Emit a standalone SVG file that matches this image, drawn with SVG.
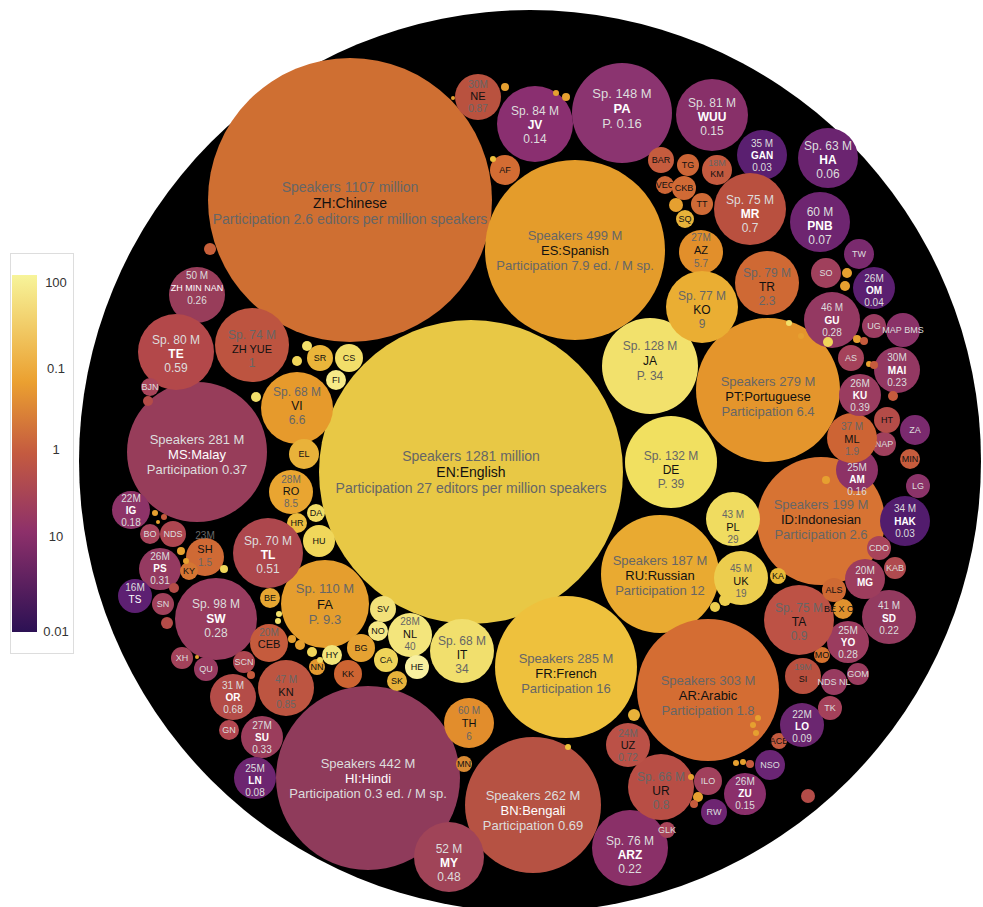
<svg xmlns="http://www.w3.org/2000/svg" width="983" height="907" viewBox="0 0 983 907">
<defs>
<linearGradient id="lg" x1="0" y1="0" x2="0" y2="1">
<stop offset="0" stop-color="#f7f49a"/><stop offset="0.3" stop-color="#eba030"/><stop offset="0.5" stop-color="#c45a40"/><stop offset="0.72" stop-color="#8d306a"/><stop offset="1" stop-color="#2c1154"/>
</linearGradient>
<style>
text{font-family:"Liberation Sans",Arial,sans-serif;text-anchor:middle}
.g{fill:#666}.k{fill:#111}.w{fill:#ddd}.W{fill:#fff;font-weight:bold}.N{fill:#fff}
.s12{font-size:12px}.s10{font-size:10px}.s9{font-size:9px}.s13{font-size:13px}.s14{font-size:14px}
</style>
</defs>
<rect width="983" height="907" fill="#fff"/>
<circle cx="530" cy="461" r="451" fill="#000"/>
<g id="legend">
<rect x="10.5" y="253.5" width="63" height="400" fill="#fff" stroke="#ddd"/>
<rect x="12" y="275" width="25" height="357" fill="url(#lg)"/>
<g font-size="13" fill="#333"><text x="56" y="287">100</text><text x="56" y="373">0.1</text><text x="56" y="454">1</text><text x="56" y="541">10</text><text x="56" y="636">0.01</text></g>
</g>
<g id="nodes">
<g id="zh"><circle cx="350" cy="200" r="142" fill="#cf6f32"/><text class="s14" x="350" y="192"><tspan class="g" x="350">Speakers 1107 million</tspan><tspan class="k" x="350" dy="16">ZH:Chinese</tspan><tspan class="g" x="350" dy="16">Participation 2.6 editors per million speakers</tspan></text></g>
<g id="en"><circle cx="471" cy="472" r="152" fill="#e8c845"/><text class="s14" x="471" y="461"><tspan class="g" x="471">Speakers 1281 million</tspan><tspan class="k" x="471" dy="16">EN:English</tspan><tspan class="g" x="471" dy="16">Participation 27 editors per million speakers</tspan></text></g>
<g id="es"><circle cx="575" cy="250" r="90" fill="#e49c2b"/><text class="s13" x="575" y="240"><tspan class="g" x="575">Speakers 499 M</tspan><tspan class="k" x="575" dy="15">ES:Spanish</tspan><tspan class="g" x="575" dy="15">Participation 7.9 ed. / M sp.</tspan></text></g>
<g id="ja"><circle cx="650" cy="366" r="48" fill="#f2e16c"/><text class="s12" x="650" y="350"><tspan class="g" x="650">Sp. 128 M</tspan><tspan class="k" x="650" dy="15">JA</tspan><tspan class="g" x="650" dy="15">P. 34</tspan></text></g>
<g id="de"><circle cx="671" cy="462" r="46" fill="#f1e060"/><text class="s12" x="671" y="460"><tspan class="g" x="671">Sp. 132 M</tspan><tspan class="k" x="671" dy="14">DE</tspan><tspan class="g" x="671" dy="14">P. 39</tspan></text></g>
<g id="pt"><circle cx="768" cy="390" r="72" fill="#e4952c"/><text class="s13" x="768" y="386"><tspan class="g" x="768">Speakers 279 M</tspan><tspan class="k" x="768" dy="15">PT:Portuguese</tspan><tspan class="g" x="768" dy="15">Participation 6.4</tspan></text></g>
<g id="id"><circle cx="821" cy="521" r="64" fill="#d77333"/><text class="s13" x="821" y="509"><tspan class="g" x="821">Speakers 199 M</tspan><tspan class="k" x="821" dy="15">ID:Indonesian</tspan><tspan class="g" x="821" dy="15">Participation 2.6</tspan></text></g>
<g id="ru"><circle cx="660" cy="574" r="59" fill="#e9aa31"/><text class="s13" x="660" y="565"><tspan class="g" x="660">Speakers 187 M</tspan><tspan class="k" x="660" dy="15">RU:Russian</tspan><tspan class="g" x="660" dy="15">Participation 12</tspan></text></g>
<g id="ar"><circle cx="708" cy="690" r="71" fill="#d46d33"/><text class="s13" x="708" y="685"><tspan class="g" x="708">Speakers 303 M</tspan><tspan class="k" x="708" dy="15">AR:Arabic</tspan><tspan class="g" x="708" dy="15">Participation 1.8</tspan></text></g>
<g id="fr"><circle cx="566" cy="667" r="71" fill="#eec13d"/><text class="s13" x="566" y="663"><tspan class="g" x="566">Speakers 285 M</tspan><tspan class="k" x="566" dy="15">FR:French</tspan><tspan class="g" x="566" dy="15">Participation 16</tspan></text></g>
<g id="bn"><circle cx="533" cy="805" r="68" fill="#b65243"/><text class="s13" x="533" y="800"><tspan class="w" x="533">Speakers 262 M</tspan><tspan class="N" x="533" dy="15">BN:Bengali</tspan><tspan class="w" x="533" dy="15">Participation 0.69</tspan></text></g>
<g id="hi"><circle cx="368" cy="778" r="92" fill="#8f3b5b"/><text class="s13" x="368" y="768"><tspan class="w" x="368">Speakers 442 M</tspan><tspan class="N" x="368" dy="15">HI:Hindi</tspan><tspan class="w" x="368" dy="15">Participation 0.3 ed. / M sp.</tspan></text></g>
<g id="ms"><circle cx="197" cy="452" r="70" fill="#973d5a"/><text class="s13" x="197" y="444"><tspan class="w" x="197">Speakers 281 M</tspan><tspan class="N" x="197" dy="15">MS:Malay</tspan><tspan class="w" x="197" dy="15">Participation 0.37</tspan></text></g>
<g id="pa"><circle cx="622" cy="113" r="50" fill="#8b3470"/><text class="s13" x="622" y="98"><tspan class="w" x="622">Sp. 148 M</tspan><tspan class="W" x="622" dy="15">PA</tspan><tspan class="w" x="622" dy="15">P. 0.16</tspan></text></g>
<g id="jv"><circle cx="535" cy="124" r="38" fill="#8a2f70"/><text class="s12" x="535" y="115"><tspan class="w" x="535">Sp. 84 M</tspan><tspan class="W" x="535" dy="14">JV</tspan><tspan class="w" x="535" dy="14">0.14</tspan></text></g>
<g id="wuu"><circle cx="712" cy="115" r="36" fill="#883069"/><text class="s12" x="712" y="107"><tspan class="w" x="712">Sp. 81 M</tspan><tspan class="W" x="712" dy="14">WUU</tspan><tspan class="w" x="712" dy="14">0.15</tspan></text></g>
<g id="ne"><circle cx="478" cy="97" r="23" fill="#b9523f"/><text class="s10" x="478" y="88"><tspan class="g" x="478">30M</tspan><tspan class="k" x="478" dy="12" font-size="11">NE</tspan><tspan class="g" x="478" dy="12">0.87</tspan></text></g>
<g id="gan"><circle cx="762" cy="155" r="25" fill="#5a1f70"/><text class="s10" x="762" y="147"><tspan class="w" x="762">35 M</tspan><tspan class="W" x="762" dy="12">GAN</tspan><tspan class="w" x="762" dy="12">0.03</tspan></text></g>
<g id="ha"><circle cx="828" cy="158" r="30" fill="#6b2470"/><text class="s12" x="828" y="150"><tspan class="w" x="828">Sp. 63 M</tspan><tspan class="W" x="828" dy="14">HA</tspan><tspan class="w" x="828" dy="14">0.06</tspan></text></g>
<g id="mr"><circle cx="750" cy="209" r="36" fill="#b9503f"/><text class="s12" x="750" y="204"><tspan class="w" x="750">Sp. 75 M</tspan><tspan class="W" x="750" dy="14">MR</tspan><tspan class="w" x="750" dy="14">0.7</tspan></text></g>
<g id="pnb"><circle cx="820" cy="222" r="30" fill="#6e2570"/><text class="s12" x="820" y="216"><tspan class="w" x="820">60 M</tspan><tspan class="W" x="820" dy="14">PNB</tspan><tspan class="w" x="820" dy="14">0.07</tspan></text></g>
<g id="tr"><circle cx="767" cy="283" r="32" fill="#cf6934"/><text class="s12" x="767" y="277"><tspan class="g" x="767">Sp. 79 M</tspan><tspan class="k" x="767" dy="14">TR</tspan><tspan class="g" x="767" dy="14">2.3</tspan></text></g>
<g id="az"><circle cx="701" cy="252" r="22" fill="#e28f2b"/><text class="s10" x="701" y="241"><tspan class="g" x="701">27M</tspan><tspan class="k" x="701" dy="13" font-size="11">AZ</tspan><tspan class="g" x="701" dy="13">5.7</tspan></text></g>
<g id="ko"><circle cx="702" cy="307" r="36" fill="#eaae33"/><text class="s12" x="702" y="300"><tspan class="g" x="702">Sp. 77 M</tspan><tspan class="k" x="702" dy="14">KO</tspan><tspan class="g" x="702" dy="14">9</tspan></text></g>
<g id="bar"><circle cx="661" cy="160" r="13" fill="#c55c3e"/><text class="s9 k" x="661" y="163">BAR</text></g>
<g id="tg"><circle cx="688" cy="165" r="11" fill="#cc6536"/><text class="s9 k" x="688" y="168">TG</text></g>
<g id="km"><circle cx="717" cy="170" r="15" fill="#c45a3f"/><text class="s9" x="717" y="166"><tspan class="g" x="717">18M</tspan><tspan class="k" x="717" dy="11">KM</tspan></text></g>
<g id="vec"><circle cx="665" cy="185" r="9" fill="#cc6535"/><text class="s9 k" x="665" y="188">VEC</text></g>
<g id="ckb"><circle cx="684" cy="188" r="12" fill="#d06a35"/><text class="s9 k" x="684" y="191">CKB</text></g>
<g id="tt"><circle cx="702" cy="204" r="11" fill="#cf6a36"/><text class="s9 k" x="702" y="207">TT</text></g>
<g id="sq"><circle cx="685" cy="219" r="9" fill="#e8b33a"/><text class="s9 k" x="685" y="222">SQ</text></g>
<g id="af"><circle cx="505" cy="170" r="15" fill="#d36c33"/><text class="s9 k" x="505" y="173">AF</text></g>
<g id="zhmin"><circle cx="197" cy="295" r="28" fill="#983d5a"/><text class="s10" x="197" y="279"><tspan class="w" x="197">50 M</tspan><tspan class="N" x="197" dy="12" font-size="9">ZH MIN NAN</tspan><tspan class="w" x="197" dy="13">0.26</tspan></text></g>
<g id="zhyue"><circle cx="252" cy="345" r="37" fill="#bd5440"/><text class="s12" x="252" y="339"><tspan class="g" x="252">Sp. 74 M</tspan><tspan class="k" x="252" dy="14" font-size="11">ZH YUE</tspan><tspan class="g" x="252" dy="14">1</tspan></text></g>
<g id="te"><circle cx="176" cy="352" r="38" fill="#b3484a"/><text class="s12" x="176" y="344"><tspan class="w" x="176">Sp. 80 M</tspan><tspan class="W" x="176" dy="14">TE</tspan><tspan class="w" x="176" dy="14">0.59</tspan></text></g>
<g id="sr"><circle cx="320" cy="358" r="13" fill="#eab53a"/><text class="s9 k" x="320" y="361">SR</text></g>
<g id="cs"><circle cx="349" cy="358" r="14" fill="#f1de6a"/><text class="s9 k" x="349" y="361">CS</text></g>
<g id="fi"><circle cx="336" cy="380" r="10" fill="#f6ea88"/><text class="s9 k" x="336" y="383">FI</text></g>
<g id="vi"><circle cx="297" cy="408" r="36" fill="#e69a2c"/><text class="s12" x="297" y="396"><tspan class="g" x="297">Sp. 68 M</tspan><tspan class="k" x="297" dy="14">VI</tspan><tspan class="g" x="297" dy="14">6.6</tspan></text></g>
<g id="el"><circle cx="304" cy="454" r="15" fill="#e9b23a"/><text class="s9 k" x="304" y="457">EL</text></g>
<g id="ro"><circle cx="291" cy="492" r="22" fill="#e9a531"/><text class="s10" x="291" y="483"><tspan class="g" x="291">28M</tspan><tspan class="k" x="291" dy="12" font-size="11">RO</tspan><tspan class="g" x="291" dy="12">8.5</tspan></text></g>
<g id="da"><circle cx="316" cy="513" r="9" fill="#f1dc66"/><text class="s9 k" x="316" y="516">DA</text></g>
<g id="hr"><circle cx="297" cy="523" r="10" fill="#ecbd3f"/><text class="s9 k" x="297" y="526">HR</text></g>
<g id="hu"><circle cx="319" cy="541" r="16" fill="#f0d75b"/><text class="s9 k" x="319" y="544">HU</text></g>
<g id="fa"><circle cx="325" cy="604" r="44" fill="#e59e2e"/><text class="s13" x="325" y="593"><tspan class="g" x="325">Sp. 110 M</tspan><tspan class="k" x="325" dy="16">FA</tspan><tspan class="g" x="325" dy="15">P. 9.3</tspan></text></g>
<g id="sv"><circle cx="383" cy="609" r="13" fill="#f2e17a"/><text class="s9 k" x="383" y="612">SV</text></g>
<g id="no"><circle cx="378" cy="631" r="10" fill="#f5e886"/><text class="s9 k" x="378" y="634">NO</text></g>
<g id="nl"><circle cx="410" cy="635" r="22" fill="#f3e57c"/><text class="s10" x="410" y="625"><tspan class="g" x="410">28M</tspan><tspan class="k" x="410" dy="13" font-size="11">NL</tspan><tspan class="g" x="410" dy="12">40</tspan></text></g>
<g id="bg"><circle cx="361" cy="648" r="14" fill="#e6a232"/><text class="s9 k" x="361" y="651">BG</text></g>
<g id="ca"><circle cx="386" cy="660" r="12" fill="#efd45a"/><text class="s9 k" x="386" y="663">CA</text></g>
<g id="he"><circle cx="417" cy="667" r="12" fill="#f8f0a0"/><text class="s9 k" x="417" y="670">HE</text></g>
<g id="sk"><circle cx="397" cy="681" r="10" fill="#e7b23b"/><text class="s9 k" x="397" y="684">SK</text></g>
<g id="hy"><circle cx="332" cy="655" r="10" fill="#f3e57a"/><text class="s9 k" x="332" y="658">HY</text></g>
<g id="nn"><circle cx="317" cy="667" r="8" fill="#e49a30"/><text class="s9 k" x="317" y="670">NN</text></g>
<g id="kk"><circle cx="348" cy="674" r="14" fill="#cd6432"/><text class="s9 k" x="348" y="677">KK</text></g>
<g id="it"><circle cx="462" cy="651" r="32" fill="#f1df6d"/><text class="s12" x="462" y="645"><tspan class="g" x="462">Sp. 68 M</tspan><tspan class="k" x="462" dy="14">IT</tspan><tspan class="g" x="462" dy="14">34</tspan></text></g>
<g id="th"><circle cx="469" cy="723" r="25" fill="#e28d2c"/><text class="s10" x="469" y="714"><tspan class="g" x="469">60 M</tspan><tspan class="k" x="469" dy="13" font-size="11">TH</tspan><tspan class="g" x="469" dy="13">6</tspan></text></g>
<g id="mn"><circle cx="464" cy="764" r="8" fill="#d88a33"/><text class="s9 k" x="464" y="767">MN</text></g>
<g id="my"><circle cx="449" cy="857" r="35" fill="#a04458"/><text class="s12" x="449" y="853"><tspan class="w" x="449">52 M</tspan><tspan class="W" x="449" dy="14">MY</tspan><tspan class="w" x="449" dy="14">0.48</tspan></text></g>
<g id="sh"><circle cx="205" cy="557" r="19" fill="#cf6a35"/><text class="s10" x="205" y="539"><tspan class="g" x="205">23M</tspan><tspan class="k" x="205" dy="14" font-size="11">SH</tspan><tspan class="g" x="205" dy="13">1.5</tspan></text></g>
<g id="tl"><circle cx="268" cy="553" r="35" fill="#ad474d"/><text class="s12" x="268" y="545"><tspan class="w" x="268">Sp. 70 M</tspan><tspan class="W" x="268" dy="14">TL</tspan><tspan class="w" x="268" dy="14">0.51</tspan></text></g>
<g id="ig"><circle cx="131" cy="510" r="19" fill="#8d3368"/><text class="s10" x="131" y="502"><tspan class="w" x="131">22M</tspan><tspan class="W" x="131" dy="12">IG</tspan><tspan class="w" x="131" dy="12">0.18</tspan></text></g>
<g id="bo"><circle cx="150" cy="534" r="10" fill="#a6435a"/><text class="s9 w" x="150" y="537">BO</text></g>
<g id="nds"><circle cx="173" cy="534" r="13" fill="#ad4650"/><text class="s9 w" x="173" y="537">NDS</text></g>
<g id="ps"><circle cx="160" cy="569" r="21" fill="#953a61"/><text class="s10" x="160" y="560"><tspan class="w" x="160">26M</tspan><tspan class="W" x="160" dy="12">PS</tspan><tspan class="w" x="160" dy="12">0.31</tspan></text></g>
<g id="ky"><circle cx="189" cy="571" r="9" fill="#d47532"/><text class="s9 k" x="189" y="574">KY</text></g>
<g id="ts"><circle cx="135" cy="596" r="17" fill="#5d2072"/><text class="s10" x="135" y="591"><tspan class="w" x="135">16M</tspan><tspan class="N" x="135" dy="12">TS</tspan></text></g>
<g id="sn"><circle cx="163" cy="604" r="11" fill="#a0405a"/><text class="s9 w" x="163" y="607">SN</text></g>
<g id="sw"><circle cx="216" cy="619" r="41" fill="#983c5f"/><text class="s12" x="216" y="608"><tspan class="w" x="216">Sp. 98 M</tspan><tspan class="W" x="216" dy="15">SW</tspan><tspan class="w" x="216" dy="14">0.28</tspan></text></g>
<g id="be"><circle cx="270" cy="598" r="10" fill="#e6a632"/><text class="s9 k" x="270" y="601">BE</text></g>
<g id="ceb"><circle cx="269" cy="643" r="19" fill="#c55b3d"/><text class="s10" x="269" y="636"><tspan class="g" x="269">20M</tspan><tspan class="k" x="269" dy="12" font-size="11">CEB</tspan></text></g>
<g id="scn"><circle cx="244" cy="662" r="11" fill="#ad4650"/><text class="s9 w" x="244" y="665">SCN</text></g>
<g id="xh"><circle cx="182" cy="658" r="11" fill="#a3425a"/><text class="s9 w" x="182" y="661">XH</text></g>
<g id="qu"><circle cx="206" cy="669" r="12" fill="#983a60"/><text class="s9 w" x="206" y="672">QU</text></g>
<g id="or"><circle cx="233" cy="697" r="23" fill="#b44c48"/><text class="s10" x="233" y="689"><tspan class="w" x="233">31 M</tspan><tspan class="W" x="233" dy="12">OR</tspan><tspan class="w" x="233" dy="12">0.68</tspan></text></g>
<g id="kn"><circle cx="286" cy="688" r="28" fill="#bd5541"/><text class="s10" x="286" y="683"><tspan class="g" x="286">47 M</tspan><tspan class="k" x="286" dy="13" font-size="11">KN</tspan><tspan class="g" x="286" dy="12">0.85</tspan></text></g>
<g id="gn"><circle cx="229" cy="730" r="10" fill="#b24750"/><text class="s9 w" x="229" y="733">GN</text></g>
<g id="su"><circle cx="262" cy="737" r="21" fill="#9b3d5c"/><text class="s10" x="262" y="729"><tspan class="w" x="262">27M</tspan><tspan class="W" x="262" dy="12">SU</tspan><tspan class="w" x="262" dy="12">0.33</tspan></text></g>
<g id="ln"><circle cx="255" cy="778" r="21" fill="#6d2570"/><text class="s10" x="255" y="772"><tspan class="w" x="255">25M</tspan><tspan class="W" x="255" dy="12">LN</tspan><tspan class="w" x="255" dy="12">0.08</tspan></text></g>
<g id="bjn"><circle cx="150" cy="387" r="9" fill="#a8445a"/><text class="s9 w" x="150" y="390" font-size="8">BJN</text></g>
<g id="arz"><circle cx="630" cy="848" r="38" fill="#8a3068"/><text class="s12" x="630" y="845"><tspan class="w" x="630">Sp. 76 M</tspan><tspan class="W" x="630" dy="14">ARZ</tspan><tspan class="w" x="630" dy="14">0.22</tspan></text></g>
<g id="ur"><circle cx="661" cy="787" r="33" fill="#b84e45"/><text class="s12" x="661" y="781"><tspan class="g" x="661">Sp. 66 M</tspan><tspan class="k" x="661" dy="14">UR</tspan><tspan class="g" x="661" dy="14">0.8</tspan></text></g>
<g id="uz"><circle cx="628" cy="745" r="22" fill="#bb5147"/><text class="s10" x="628" y="737"><tspan class="g" x="628">24M</tspan><tspan class="k" x="628" dy="12" font-size="11">UZ</tspan><tspan class="g" x="628" dy="12">0.72</tspan></text></g>
<g id="glk"><circle cx="667" cy="830" r="8" fill="#a84559"/><text class="s9 w" x="667" y="833" font-size="8">GLK</text></g>
<g id="ilo"><circle cx="708" cy="781" r="14" fill="#a1405c"/><text class="s9 w" x="708" y="784">ILO</text></g>
<g id="rw"><circle cx="714" cy="812" r="13" fill="#6e2572"/><text class="s9 w" x="714" y="815">RW</text></g>
<g id="zu"><circle cx="745" cy="794" r="21" fill="#8a2f6b"/><text class="s10" x="745" y="785"><tspan class="w" x="745">26M</tspan><tspan class="W" x="745" dy="12">ZU</tspan><tspan class="w" x="745" dy="12">0.15</tspan></text></g>
<g id="nso"><circle cx="770" cy="765" r="15" fill="#6a2574"/><text class="s9 w" x="770" y="768">NSO</text></g>
<g id="ace"><circle cx="779" cy="741" r="8" fill="#c45a3e"/><text class="s9 k" x="779" y="744" font-size="8">ACE</text></g>
<g id="lo"><circle cx="802" cy="725" r="22" fill="#6b2670"/><text class="s10" x="802" y="718"><tspan class="w" x="802">22M</tspan><tspan class="W" x="802" dy="12">LO</tspan><tspan class="w" x="802" dy="12">0.09</tspan></text></g>
<g id="tk"><circle cx="830" cy="708" r="12" fill="#a5415a"/><text class="s9 w" x="830" y="711">TK</text></g>
<g id="gom"><circle cx="858" cy="674" r="11" fill="#9a3b5e"/><text class="s9 w" x="858" y="677">GOM</text></g>
<g id="si"><circle cx="803" cy="676" r="18" fill="#b9503f"/><text class="s9" x="803" y="670"><tspan class="g" x="803">19M</tspan><tspan class="k" x="803" dy="12">SI</tspan></text></g>
<g id="ndsnl"><circle cx="834" cy="682" r="13" fill="#983b60"/><text class="s9 w" x="834" y="685">NDS NL</text></g>
<g id="mo"><circle cx="822" cy="655" r="8" fill="#d4722f"/><text class="s9 k" x="822" y="658" font-size="8">MO</text></g>
<g id="yo"><circle cx="848" cy="642" r="21" fill="#9b3c5f"/><text class="s10" x="848" y="634"><tspan class="w" x="848">25M</tspan><tspan class="W" x="848" dy="12">YO</tspan><tspan class="w" x="848" dy="12">0.28</tspan></text></g>
<g id="sd"><circle cx="889" cy="617" r="27" fill="#933a5f"/><text class="s10" x="889" y="609"><tspan class="w" x="889">41 M</tspan><tspan class="W" x="889" dy="13">SD</tspan><tspan class="w" x="889" dy="12">0.22</tspan></text></g>
<g id="ta"><circle cx="799" cy="620" r="35" fill="#bd5245"/><text class="s12" x="799" y="612"><tspan class="g" x="799">Sp. 75 M</tspan><tspan class="k" x="799" dy="14">TA</tspan><tspan class="g" x="799" dy="14">0.9</tspan></text></g>
<g id="bexo"><circle cx="843" cy="609" r="10" fill="#e0922e"/><text class="s9 k" x="839" y="612">BE X O</text></g>
<g id="als"><circle cx="834" cy="590" r="12" fill="#cf6a33"/><text class="s9 k" x="834" y="593">ALS</text></g>
<g id="ka"><circle cx="778" cy="576" r="8" fill="#e8b937"/><text class="s9 k" x="778" y="579" font-size="8">KA</text></g>
<g id="mg"><circle cx="865" cy="579" r="20" fill="#9d3d5d"/><text class="s10" x="865" y="574"><tspan class="w" x="865">20M</tspan><tspan class="W" x="865" dy="12">MG</tspan></text></g>
<g id="kab"><circle cx="895" cy="568" r="11" fill="#b04a4f"/><text class="s9 w" x="895" y="571">KAB</text></g>
<g id="cdo"><circle cx="879" cy="548" r="12" fill="#a8435a"/><text class="s9 w" x="879" y="551">CDO</text></g>
<g id="hak"><circle cx="905" cy="521" r="25" fill="#521c6d"/><text class="s10" x="905" y="512"><tspan class="w" x="905">34 M</tspan><tspan class="W" x="905" dy="13">HAK</tspan><tspan class="w" x="905" dy="12">0.03</tspan></text></g>
<g id="uk"><circle cx="741" cy="578" r="27" fill="#eccd4e"/><text class="s10" x="741" y="572"><tspan class="g" x="741">45 M</tspan><tspan class="k" x="741" dy="13" font-size="11">UK</tspan><tspan class="g" x="741" dy="12">19</tspan></text></g>
<g id="pl"><circle cx="733" cy="519" r="27" fill="#f0dc60"/><text class="s10" x="733" y="518"><tspan class="g" x="733">43 M</tspan><tspan class="k" x="733" dy="13" font-size="11">PL</tspan><tspan class="g" x="733" dy="12">29</tspan></text></g>
<g id="lg1"><circle cx="918" cy="486" r="12" fill="#8b3369"/><text class="s9 w" x="918" y="489">LG</text></g>
<g id="am"><circle cx="857" cy="470" r="21" fill="#8d3266"/><text class="s10" x="857" y="471"><tspan class="w" x="857">25M</tspan><tspan class="W" x="857" dy="12">AM</tspan><tspan class="w" x="857" dy="12">0.16</tspan></text></g>
<g id="min"><circle cx="910" cy="459" r="10" fill="#c65c3d"/><text class="s9 k" x="910" y="462" font-size="8">MIN</text></g>
<g id="nap"><circle cx="884" cy="444" r="12" fill="#a0405d"/><text class="s9 w" x="884" y="447">NAP</text></g>
<g id="za"><circle cx="915" cy="430" r="15" fill="#7a2a6e"/><text class="s9 w" x="915" y="433">ZA</text></g>
<g id="ht"><circle cx="887" cy="420" r="13" fill="#b44c48"/><text class="s9 k" x="887" y="423">HT</text></g>
<g id="ml"><circle cx="852" cy="438" r="25" fill="#cd6434"/><text class="s10" x="852" y="430"><tspan class="g" x="852">37 M</tspan><tspan class="k" x="852" dy="13" font-size="11">ML</tspan><tspan class="g" x="852" dy="12">1.9</tspan></text></g>
<g id="ku"><circle cx="860" cy="395" r="21" fill="#9a3c60"/><text class="s10" x="860" y="387"><tspan class="w" x="860">26M</tspan><tspan class="W" x="860" dy="12">KU</tspan><tspan class="w" x="860" dy="12">0.39</tspan></text></g>
<g id="mai"><circle cx="897" cy="370" r="23" fill="#933862"/><text class="s10" x="897" y="361"><tspan class="w" x="897">30M</tspan><tspan class="W" x="897" dy="13">MAI</tspan><tspan class="w" x="897" dy="12">0.23</tspan></text></g>
<g id="as"><circle cx="851" cy="358" r="13" fill="#a5425a"/><text class="s9 w" x="851" y="361">AS</text></g>
<g id="ug"><circle cx="874" cy="326" r="12" fill="#9a3c60"/><text class="s9 w" x="874" y="329">UG</text></g>
<g id="mapbms"><circle cx="903" cy="330" r="17" fill="#8a3268"/><text class="s9 w" x="903" y="333">MAP BMS</text></g>
<g id="gu"><circle cx="832" cy="320" r="28" fill="#943962"/><text class="s10" x="832" y="311"><tspan class="w" x="832">46 M</tspan><tspan class="W" x="832" dy="13">GU</tspan><tspan class="w" x="832" dy="12">0.28</tspan></text></g>
<g id="om"><circle cx="874" cy="288" r="21" fill="#5b1f70"/><text class="s10" x="874" y="282"><tspan class="w" x="874">26M</tspan><tspan class="W" x="874" dy="12">OM</tspan><tspan class="w" x="874" dy="12">0.04</tspan></text></g>
<g id="so"><circle cx="826" cy="273" r="15" fill="#a0405c"/><text class="s9 w" x="826" y="276">SO</text></g>
<g id="tw"><circle cx="859" cy="254" r="15" fill="#7a2a6e"/><text class="s9 w" x="859" y="257">TW</text></g>
<g id="tiny">
<circle cx="210" cy="249" r="6" fill="#c8603a"/><circle cx="676" cy="205" r="7" fill="#e6a030"/><circle cx="493" cy="159" r="3" fill="#eec13d"/><circle cx="566" cy="97" r="4" fill="#e6a030"/><circle cx="556" cy="93" r="3" fill="#e6a030"/><circle cx="505" cy="87" r="4" fill="#e6a030"/><circle cx="453" cy="98" r="2" fill="#e6a030"/>
<circle cx="307" cy="346" r="5" fill="#f2e06b"/><circle cx="297" cy="361" r="5" fill="#f0d65a"/><circle cx="256" cy="397" r="5" fill="#f2e06b"/><circle cx="148" cy="401" r="5" fill="#b44c48"/>
<circle cx="725" cy="600" r="6" fill="#eccd4e"/><circle cx="715" cy="607" r="5" fill="#eccd4e"/><circle cx="634" cy="715" r="6" fill="#e9b23a"/><circle cx="568" cy="747" r="3" fill="#eec13d"/>
<circle cx="789" cy="323" r="3" fill="#f2e06b"/><circle cx="847" cy="273" r="5" fill="#e6a030"/><circle cx="845" cy="286" r="5" fill="#e6a030"/><circle cx="801" cy="336" r="3" fill="#e6a030"/><circle cx="828" cy="342" r="5" fill="#f0d65a"/>
<circle cx="857" cy="339" r="4" fill="#e6a030"/><circle cx="864" cy="341" r="4" fill="#c55b3d"/><circle cx="869" cy="364" r="3" fill="#e6a030"/><circle cx="874" cy="365" r="4" fill="#c55b3d"/><circle cx="893" cy="396" r="5" fill="#c55b3d"/>
<circle cx="826" cy="480" r="4" fill="#e6a030"/><circle cx="808" cy="796" r="7" fill="#b44c48"/><circle cx="736" cy="763" r="3" fill="#e6a030"/><circle cx="743" cy="762" r="3" fill="#e6a030"/><circle cx="750" cy="764" r="4" fill="#c55b3d"/>
<circle cx="691" cy="777" r="3" fill="#e6a030"/><circle cx="698" cy="797" r="5" fill="#e6a030"/><circle cx="694" cy="804" r="4" fill="#c55b3d"/><circle cx="753" cy="725" r="3" fill="#e6a030"/><circle cx="756" cy="733" r="3" fill="#e6a030"/><circle cx="758" cy="718" r="3" fill="#e6a030"/>
<circle cx="155" cy="513" r="3" fill="#e6a030"/><circle cx="164" cy="517" r="3" fill="#c55b3d"/><circle cx="158" cy="522" r="2" fill="#e6a030"/><circle cx="181" cy="551" r="4" fill="#e6a030"/><circle cx="186" cy="561" r="3" fill="#e6a030"/><circle cx="174" cy="588" r="5" fill="#b44c48"/><circle cx="167" cy="623" r="6" fill="#b44c48"/><circle cx="224" cy="569" r="4" fill="#f0d65a"/>
<circle cx="279" cy="614" r="3" fill="#f2e06b"/><circle cx="278" cy="621" r="3" fill="#f2e06b"/><circle cx="292" cy="639" r="4" fill="#e6a030"/><circle cx="300" cy="645" r="5" fill="#e6a030"/><circle cx="312" cy="652" r="5" fill="#f0d65a"/><circle cx="320" cy="660" r="3" fill="#f0d65a"/><circle cx="251" cy="675" r="4" fill="#c55b3d"/><circle cx="197" cy="657" r="2" fill="#e6a030"/>
</g>
</g>
</svg>
